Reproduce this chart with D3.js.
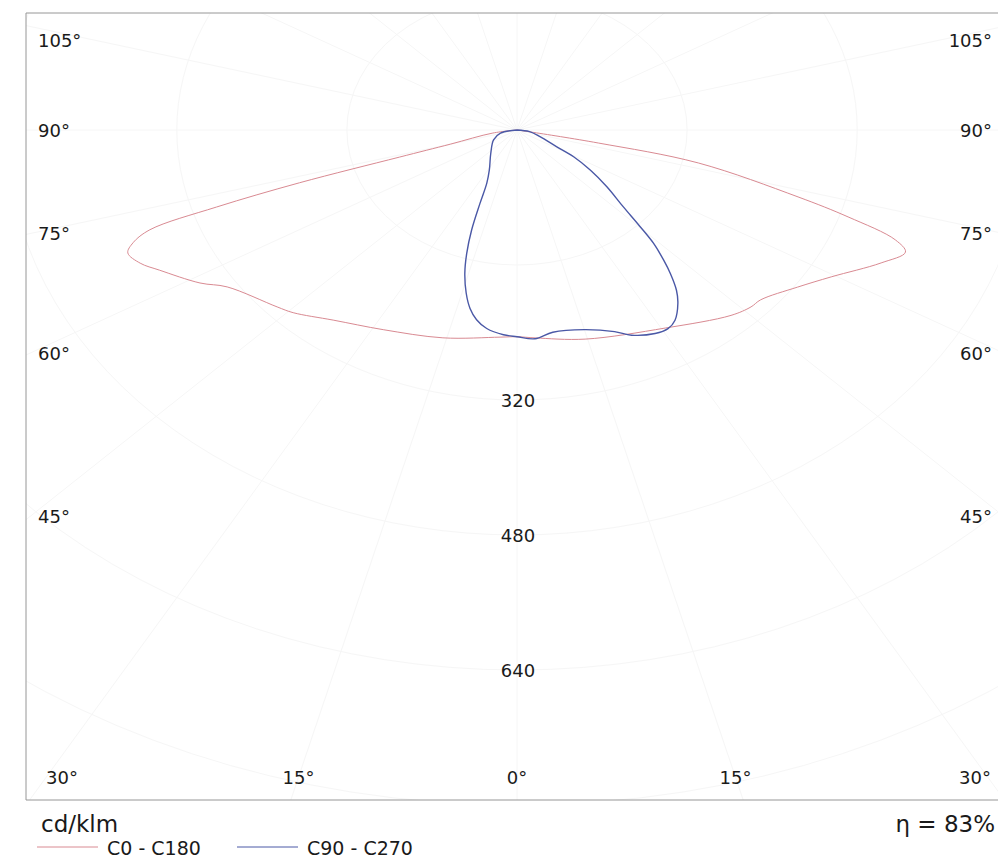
<!DOCTYPE html>
<html>
<head>
<meta charset="utf-8">
<script src="https://cdn.jsdelivr.net/npm/d3@7"></script>
<style>
  body { margin: 0; background: #fff; }
  text { font-family: "DejaVu Sans", Verdana, sans-serif; fill: #1a1a1a; }
</style>
</head>
<body>
<div id="chart"></div>
<script>
// luminous intensity (cd/klm) per gamma angle
var gammaC0 = [0, 4, 14.5, 30.7, 42.5, 46.4, 48.7, 54.8, 59.5, 65.3, 68.4, 69.9, 71.7, 73.3, 77.1, 78.6, 79.7, 90];
var intensityC0 = [245, 247, 256, 273, 298, 304, 305, 323, 343, 377, 393, 379, 328, 276, 175, 78, 13, 0];

var gammaC180 = [0, 3.7, 15.8, 28, 37.5, 44.2, 47.1, 55.7, 58.7, 63.7, 66, 68.3, 69.7, 71.1, 72.1, 73, 73.8, 75, 81, 90];
var intensityC180 = [245, 246, 256, 268, 284, 302, 308, 330, 349, 375, 388, 394, 385, 365, 297, 214, 115, 65, 23, 0];

var gammaC90 = [0, 3.9, 8, 15, 21, 23.9, 28.3, 31.1, 33.4, 36.4, 38.3, 40.3, 41.8, 43.7, 45.3, 47.7, 51.5, 55.4, 59.2, 62, 69.9, 80.7, 90];
var intensityC90 = [245, 248, 242, 245, 256, 266, 274, 275, 270, 255, 242, 223, 207, 186, 163, 135, 108, 84, 62, 42, 23, 12, 0];

var gammaC270 = [0, 3, 6.9, 9.6, 11.8, 13.9, 16.1, 17.9, 19.8, 21.8, 24.3, 28.8, 41.8, 61.9, 76.3, 90];
var intensityC270 = [245, 243, 237, 228, 216, 199, 177, 154, 126, 94, 69, 54, 37, 25, 16, 0];

var ringValues = [160, 320, 480, 640, 800, 960];
var ringLabels = [320, 480, 640];
var angleLabels = [0, 15, 30, 45, 60, 75, 90, 105];

var series = [
    { name: "C0 - C180", left: [gammaC180, intensityC180], right: [gammaC0, intensityC0], color: "#d98a92", width: 1 },
    { name: "C90 - C270", left: [gammaC270, intensityC270], right: [gammaC90, intensityC90], color: "#4a58a6", width: 1.4 }
];

var width = 998;
var height = 859;
var cx = 517, cy = 130;
var frame = { x: 26, y: 13, w: 990, h: 787 };
var ky = 135 / 160;
var kx = ky * 1.26;

var xScale = d3.scaleLinear().domain([-1000, 1000]).range([cx - 1000 * kx, cx + 1000 * kx]);
var yScale = d3.scaleLinear().domain([-1000, 1000]).range([cy - 1000 * ky, cy + 1000 * ky]);

var rad = Math.PI / 180;

var svg = d3.select("#chart")
    .append("svg")
    .attr("width", width)
    .attr("height", height);

svg.append("rect").attr("width", width).attr("height", height).attr("fill", "#fff");

svg.append("clipPath").attr("id", "clip")
    .append("rect")
    .attr("x", frame.x).attr("y", frame.y)
    .attr("width", frame.w).attr("height", frame.h);

var grid = svg.append("g").attr("clip-path", "url(#clip)");

// rings
grid.selectAll("ellipse")
    .data(ringValues)
    .enter()
    .append("ellipse")
    .attr("cx", cx)
    .attr("cy", cy)
    .attr("rx", function (d) { return xScale(d) - cx; })
    .attr("ry", function (d) { return yScale(d) - cy; })
    .attr("fill", "none")
    .attr("stroke", "#f6f6f6")
    .attr("stroke-width", 1);

// spokes
grid.selectAll("line")
    .data(d3.range(-180, 180, 15))
    .enter()
    .append("line")
    .attr("x1", cx)
    .attr("y1", cy)
    .attr("x2", function (d) { return xScale(1000 * Math.sin(d * rad)); })
    .attr("y2", function (d) { return yScale(1000 * Math.cos(d * rad)); })
    .attr("stroke", "#f6f6f6")
    .attr("stroke-width", 1);

// frame
svg.append("path")
    .attr("d", "M" + (frame.x + frame.w) + "," + frame.y + "H" + frame.x + "V" + (frame.y + frame.h) + "H" + (frame.x + frame.w))
    .attr("fill", "none")
    .attr("stroke", "#969696")
    .attr("stroke-width", 1);

// curves
var line = d3.line()
    .x(function (d) { return xScale(d[0]); })
    .y(function (d) { return yScale(d[1]); })
    .curve(d3.curveCatmullRom.alpha(0.5));

function toPoints(s) {
    var pts = [];
    var gl = s.left[0], il = s.left[1];
    for (var i = gl.length - 1; i >= 0; i--) {
        pts.push([-il[i] * Math.sin(gl[i] * rad), il[i] * Math.cos(gl[i] * rad)]);
    }
    var gr = s.right[0], ir = s.right[1];
    for (var j = 1; j < gr.length; j++) {
        pts.push([ir[j] * Math.sin(gr[j] * rad), ir[j] * Math.cos(gr[j] * rad)]);
    }
    return pts;
}

svg.selectAll("path.curve")
    .data(series)
    .enter()
    .append("path")
    .attr("class", "curve")
    .attr("d", function (d) { return line(toPoints(d)); })
    .attr("fill", "none")
    .attr("stroke", function (d) { return d.color; })
    .attr("stroke-width", function (d) { return d.width; });

// ring labels
svg.selectAll("text.ring")
    .data(ringLabels)
    .enter()
    .append("text")
    .attr("class", "ring")
    .attr("x", cx + 1)
    .attr("y", function (d) { return yScale(d); })
    .attr("text-anchor", "middle")
    .attr("dominant-baseline", "central")
    .style("font-size", "18px")
    .text(function (d) { return d; });

// angle labels on both sides, placed where the spoke meets the label box
var sideHalf = 487, bottomY = 777;
angleLabels.forEach(function (g) {
    [-1, 1].forEach(function (s) {
        if (g === 0 && s === -1) return;
        var dx = kx * Math.sin(g * rad), dy = ky * Math.cos(g * rad);
        var tSide = sideHalf / dx;
        var tBot = dy > 0 ? (bottomY - cy) / dy : Infinity;
        var t = svg.append("text")
            .attr("dominant-baseline", "central")
            .style("font-size", "18px")
            .text(g + "°");
        if (tSide <= tBot) {
            t.attr("x", s < 0 ? 38 : 992)
                .attr("y", Math.max(40, cy + dy * tSide))
                .attr("text-anchor", s < 0 ? "start" : "end");
        } else {
            var x = cx + s * dx * tBot;
            t.attr("x", Math.min(975, Math.max(62, x)))
                .attr("y", bottomY)
                .attr("text-anchor", "middle");
        }
    });
});

// footer
svg.append("text")
    .attr("x", 41).attr("y", 832)
    .style("font-size", "23px")
    .text("cd/klm");

svg.append("text")
    .attr("x", 995).attr("y", 832)
    .attr("text-anchor", "end")
    .style("font-size", "23px")
    .text("η = 83%");

var legend = svg.selectAll("g.legend")
    .data(series)
    .enter()
    .append("g")
    .attr("class", "legend")
    .attr("transform", function (d, i) { return "translate(" + (37 + i * 200) + ",0)"; });

legend.append("line")
    .attr("x1", 0).attr("x2", 61)
    .attr("y1", 847).attr("y2", 847)
    .attr("stroke", function (d) { return d.color; })
    .attr("stroke-width", 1);

legend.append("text")
    .attr("x", 70).attr("y", 855)
    .style("font-size", "19px")
    .text(function (d) { return d.name; });
</script>
</body>
</html>
